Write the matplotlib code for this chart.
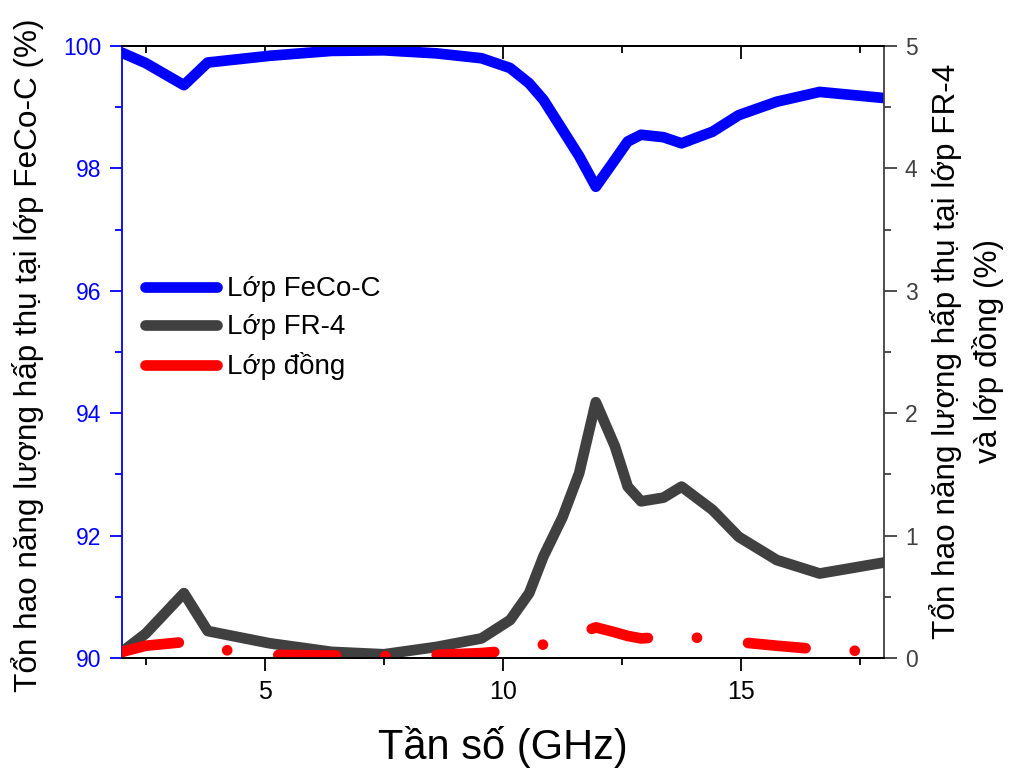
import matplotlib
matplotlib.use("Agg")
import matplotlib.pyplot as plt

plt.rcParams['font.family'] = ['Liberation Sans', 'DejaVu Sans']

freq = [2, 2.5, 3.3, 3.8, 5.1, 6.4, 7.5, 8.6, 9.55, 10.15, 10.55, 10.85, 11.25, 11.6,
        11.95, 12.35, 12.62, 12.9, 13.37, 13.75, 14.4, 14.95, 15.75, 16.65, 18]
feco = [99.89, 99.72, 99.36, 99.73, 99.84, 99.92, 99.93, 99.88, 99.8, 99.64, 99.39, 99.12,
        98.63, 98.2, 97.7, 98.14, 98.44, 98.55, 98.51, 98.41, 98.6, 98.87, 99.09, 99.25, 99.15]
fr4 = [0.05, 0.2, 0.53, 0.22, 0.12, 0.05, 0.03, 0.09, 0.16, 0.31, 0.53, 0.83, 1.15, 1.51,
       2.09, 1.73, 1.4, 1.28, 1.31, 1.4, 1.21, 0.99, 0.8, 0.69, 0.78]
dong = [0.05, 0.1, 0.13, 0.08, 0.025, 0.02, 0.015, 0.025, 0.04, 0.06, 0.08, 0.11, 0.15, 0.2,
        0.25, 0.21, 0.18, 0.16, 0.17, 0.18, 0.15, 0.13, 0.1, 0.07, 0.05]

labels = ['Lớp FeCo-C', 'Lớp FR-4', 'Lớp đồng']
xlabel = 'Tần số (GHz)'
ylabel_left = 'Tổn hao năng lượng hấp thụ tại lớp FeCo-C (%)'
ylabel_right = 'Tổn hao năng lượng hấp thụ tại lớp FR-4\nvà lớp đồng (%)'

BLUE = '#0000FF'
GRAY = '#404040'
RED = '#FF0000'

fig = plt.figure(figsize=(10.10, 7.72), dpi=100)
ax = fig.add_axes([0.1208, 0.1477, 0.7544, 0.7927])
ax2 = ax.twinx()

lw = 7.7
l1, = ax.plot(freq, feco, color=BLUE, lw=lw, solid_capstyle='round', solid_joinstyle='round')
l2, = ax2.plot(freq, fr4, color=GRAY, lw=lw, solid_capstyle='round', solid_joinstyle='round')
l3, = ax2.plot(freq, dong, color=RED, lw=lw, dash_capstyle='round', dash_joinstyle='round')
l3.set_dashes([5.4, 4.6, 0.01, 4.8])

ax.set_xlim(2, 18)
ax.set_ylim(90, 100)
ax2.set_ylim(0, 5)

ax.set_xticks([5, 10, 15])
ax.set_xticks([2.5, 7.5, 12.5, 17.5], minor=True)
ax.set_yticks([90, 92, 94, 96, 98, 100])
ax.set_yticks([91, 93, 95, 97, 99], minor=True)
ax2.set_yticks([0, 1, 2, 3, 4, 5])
ax2.set_yticks([0.5, 1.5, 2.5, 3.5, 4.5], minor=True)

ax.tick_params(axis='x', which='major', direction='out', length=9, width=1.3,
               labelsize=18, colors='black', pad=7)
ax.tick_params(axis='x', which='minor', direction='out', length=5, width=1.3)
ax.tick_params(axis='y', which='major', direction='out', length=9, width=1.3,
               labelsize=16.5, colors=BLUE, pad=6)
ax.tick_params(axis='y', which='minor', direction='out', length=5, width=1.3, colors=BLUE)
ax2.tick_params(axis='y', which='major', direction='out', length=9, width=1.3,
                labelsize=16.5, colors=GRAY, pad=6)
ax2.tick_params(axis='y', which='minor', direction='out', length=5, width=1.3, colors=GRAY)

top = ax.secondary_xaxis('top')
top.set_xticks([5, 10, 15])
top.set_xticks([2.5, 7.5, 12.5, 17.5], minor=True)
top.tick_params(axis='x', which='major', direction='in', length=9, width=1.3, labeltop=False)
top.tick_params(axis='x', which='minor', direction='in', length=5, width=1.3)
top.spines['top'].set_linewidth(1.3)

for a in (ax, ax2):
    for s in a.spines.values():
        s.set_linewidth(1.3)
ax.spines['left'].set_color(BLUE)
ax.spines['right'].set_visible(False)
ax2.spines['left'].set_visible(False)
ax2.spines['right'].set_color(GRAY)

ax.set_xlabel(xlabel, fontsize=30, labelpad=16)
fig.text(0.0277, 0.540, ylabel_left, fontsize=22.7, rotation=90, ha='center', va='center')
fig.text(0.9565, 0.5453, ylabel_right, fontsize=22.7, rotation=90, ha='center', va='center',
         multialignment='center', linespacing=1.4)

leg = ax2.legend([l1, l2, l3], labels, loc='upper left', bbox_to_anchor=(0.1297, 0.66),
                 bbox_transform=fig.transFigure, frameon=False, fontsize=20,
                 handlelength=2.6, handletextpad=0.36, labelspacing=0.43, borderpad=0)
for h in leg.get_lines():
    h.set_linewidth(lw)
    h.set_solid_capstyle('round')
leg.get_lines()[2].set_linestyle('-')

fig.savefig('out.png', dpi=100)
